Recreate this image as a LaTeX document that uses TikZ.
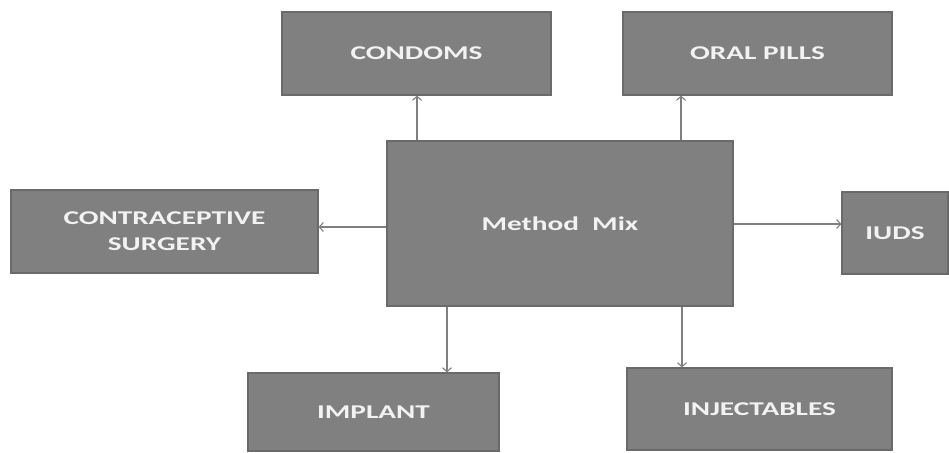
\documentclass[tikz,border=0pt]{standalone}
\usepackage{fontspec}
\newfontfamily\boxfont[FakeStretch=1.5]{Carlito}
\usetikzlibrary{arrows.meta}
\definecolor{boxfill}{HTML}{808080}
\definecolor{boxline}{HTML}{6A6A6A}
\definecolor{arrline}{HTML}{7F7F7F}
\definecolor{txt}{HTML}{F2F2F2}
\tikzset{
  box/.style={draw=boxline, line width=1.2pt, fill=boxfill, text=txt,
    font=\boxfont\bfseries\fontsize{19.5}{26}\selectfont, align=center,
    inner sep=0pt, anchor=center},
  arr/.style={draw=arrline, line width=1.1pt, -{Straight Barb[length=4pt,width=9pt,line width=1.1pt]}}
}
\begin{document}
\begin{tikzpicture}[x=1pt,y=-1pt]
\useasboundingbox (0,0) rectangle (949,452);
\node[box, minimum width=269pt, minimum height=83pt] (condoms) at (416.5,53.5) {CONDOMS};
\node[box, minimum width=269pt, minimum height=83pt] (oral) at (757.5,53.5) {ORAL PILLS};
\node[box, minimum width=346pt, minimum height=165pt] (mix) at (560,223.5) {Method\ \ Mix};
\node[box, minimum width=307pt, minimum height=83pt] (surgery) at (164.5,231.5) {CONTRACEPTIVE\\SURGERY};
\node[box, minimum width=106pt, minimum height=82pt] (iuds) at (895,233) {IUDS};
\node[box, minimum width=251pt, minimum height=78pt] (implant) at (373.5,412) {IMPLANT};
\node[box, minimum width=265pt, minimum height=82pt] (inject) at (759.5,409) {INJECTABLES};
\draw[arr] (mix.north -| 417,0) -- (condoms.south -| 417,0);
\draw[arr] (mix.north -| 681,0) -- (oral.south -| 681,0);
\draw[arr] (mix.west |- 0,227) -- (surgery.east |- 0,227);
\draw[arr] (mix.east |- 0,224) -- (iuds.west |- 0,224);
\draw[arr] (mix.south -| 447,0) -- (implant.north -| 447,0);
\draw[arr] (mix.south -| 682,0) -- (inject.north -| 682,0);
\end{tikzpicture}
\end{document}
